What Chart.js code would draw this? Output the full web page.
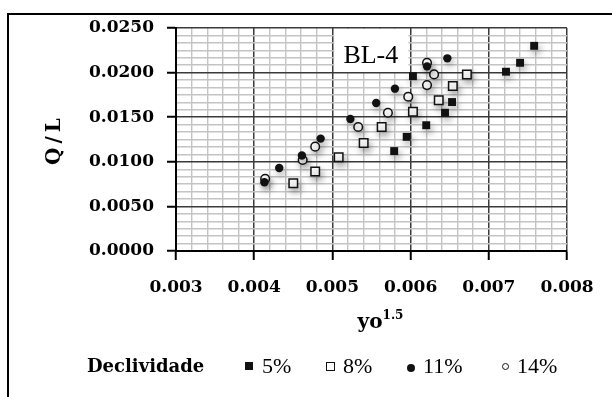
<!DOCTYPE html>
<html>
<head>
<meta charset="utf-8">
<script src="https://cdn.jsdelivr.net/npm/chart.js@4/dist/chart.umd.min.js"></script>
<style>
  html, body { margin: 0; padding: 0; background: #fff; }
  #wrap { position: relative; width: 612px; height: 397px; overflow: hidden; background: #fff; }
  #frame { position: absolute; left: 7px; top: 13px; width: 800px; height: 600px; border: 2px solid #000; }
  #c { position: absolute; left: 0; top: 0; }
  .lg { position: absolute; white-space: nowrap; color: #000; }
  .lgt { font-family: "Liberation Serif", serif; font-size: 22px; line-height: 24px; top: 354px; }
  .mk { position: absolute; box-sizing: border-box; }
</style>
</head>
<body>
<div id="wrap">
  <div id="frame"></div>
  <canvas id="c" width="612" height="397"></canvas>
  <div class="lg" id="lgTitle" style="left:87px;top:356px;font-family:'DejaVu Serif',serif;font-weight:bold;font-size:18px;line-height:20px;"></div>
  <div class="mk" style="left:245px;top:362px;width:8px;height:8px;background:#111;"></div>
  <div class="lg lgt" id="lg0" style="left:262px;"></div>
  <div class="mk" style="left:326px;top:362px;width:9px;height:9px;border:1.5px solid #111;background:#fff;"></div>
  <div class="lg lgt" id="lg1" style="left:343px;"></div>
  <div class="mk" style="left:407px;top:364px;width:8px;height:8px;border-radius:50%;background:#111;"></div>
  <div class="lg lgt" id="lg2" style="left:423px;"></div>
  <div class="mk" style="left:502px;top:363px;width:7px;height:7px;border-radius:50%;border:1px solid #111;background:#fff;"></div>
  <div class="lg lgt" id="lg3" style="left:517px;"></div>
</div>
<script>
// ---- data ----
const seriesNames = ['5%', '8%', '11%', '14%'];
const legendTitle = 'Declividade';

const x5  = [0.00579, 0.00595, 0.00620, 0.00644, 0.00653, 0.00603, 0.00722, 0.00740, 0.00758];
const y5  = [0.0112, 0.0128, 0.0141, 0.0155, 0.0167, 0.0196, 0.0201, 0.0211, 0.0230];
const x8  = [0.00450, 0.00478, 0.00508, 0.00540, 0.00563, 0.00603, 0.00636, 0.00654, 0.00672];
const y8  = [0.0076, 0.0089, 0.0105, 0.0121, 0.0139, 0.0156, 0.0169, 0.0185, 0.0198];
const x11 = [0.00413, 0.00432, 0.00461, 0.00485, 0.00523, 0.00556, 0.00580, 0.00621, 0.00647];
const y11 = [0.0077, 0.0093, 0.0107, 0.0126, 0.0148, 0.0166, 0.0182, 0.0207, 0.0216];
const x14 = [0.00414, 0.00462, 0.00478, 0.00533, 0.00571, 0.00597, 0.00621, 0.00630, 0.00621];
const y14 = [0.0081, 0.0102, 0.0117, 0.0139, 0.0155, 0.0173, 0.0186, 0.0198, 0.0211];

const xTickLabels = ['0.003', '0.004', '0.005', '0.006', '0.007', '0.008'];
const yTickLabels = ['0.0000', '0.0050', '0.0100', '0.0150', '0.0200', '0.0250'];
const xMinorDivisions = 5;
const yMinorDivisions = 6;

const yTitle = 'Q/L';
const xTitleBase = 'yo';
const xTitleSup = '1.5';
const panelLabel = 'BL-4';

// ---- build ----
document.getElementById('lgTitle').textContent = legendTitle;
seriesNames.forEach((n, i) => { document.getElementById('lg' + i).textContent = n; });

const xMajor = xTickLabels.map(parseFloat);
const yMajor = yTickLabels.map(parseFloat);

function pts(xs, ys) { return xs.map((x, i) => ({ x: x, y: ys[i] })); }

function buildTicks(majors, div) {
  const out = [];
  for (let i = 0; i < majors.length; i++) {
    out.push({ value: majors[i] });
    if (i < majors.length - 1) {
      const step = (majors[i + 1] - majors[i]) / div;
      for (let k = 1; k < div; k++) out.push({ value: majors[i] + k * step });
    }
  }
  return out;
}
function majorIndex(majors, v) {
  return majors.findIndex(m => Math.abs(m - v) < 1e-9);
}

const shadowPlugin = {
  id: 'shadowPlugin',
  beforeDatasetsDraw(chart) {
    const ctx = chart.ctx;
    const a = chart.chartArea;
    const xs = chart.scales.x;
    // panel label box
    ctx.save();
    const bx = xs.getPixelForValue(0.005) + 2;
    ctx.fillStyle = '#fff';
    ctx.fillRect(bx, a.top + 1, 74, 43);
    ctx.fillStyle = '#000';
    ctx.font = '26px "Liberation Serif", serif';
    ctx.textAlign = 'left';
    ctx.textBaseline = 'alphabetic';
    ctx.fillText(panelLabel, bx + 9, a.top + 35);
    ctx.restore();

    ctx.save();
    ctx.shadowColor = 'rgba(0,0,0,0.35)';
    ctx.shadowBlur = 7;
    ctx.shadowOffsetX = 2;
    ctx.shadowOffsetY = 4;
  },
  afterDatasetsDraw(chart) {
    chart.ctx.restore();
  },
  afterDraw(chart) {
    const ctx = chart.ctx;
    const a = chart.chartArea;
    ctx.save();
    ctx.fillStyle = '#000';
    // y title
    ctx.translate(55, (a.top + a.bottom) / 2);
    ctx.rotate(-Math.PI / 2);
    ctx.font = 'bold 20px "DejaVu Serif", serif';
    try { ctx.letterSpacing = '4px'; } catch (e) {}
    ctx.textAlign = 'center';
    ctx.textBaseline = 'middle';
    ctx.fillText(yTitle, 0, 0);
    ctx.restore();

    ctx.save();
    ctx.fillStyle = '#000';
    ctx.font = 'bold 20px "DejaVu Serif", serif';
    ctx.textAlign = 'left';
    ctx.textBaseline = 'alphabetic';
    const bw = ctx.measureText(xTitleBase).width;
    ctx.font = 'bold 12px "DejaVu Serif", serif';
    const sw = ctx.measureText(xTitleSup).width;
    const cx = (a.left + a.right) / 2 + 9;
    const x0 = cx - (bw + sw) / 2;
    ctx.font = 'bold 20px "DejaVu Serif", serif';
    ctx.fillText(xTitleBase, x0, 328);
    ctx.font = 'bold 12px "DejaVu Serif", serif';
    ctx.fillText(xTitleSup, x0 + bw, 319);
    ctx.restore();
  }
};

const tickFont = { family: "'DejaVu Serif', serif", weight: 'bold', size: 17 };

new Chart(document.getElementById('c'), {
  type: 'scatter',
  data: {
    datasets: [
      { label: seriesNames[0], data: pts(x5, y5), pointStyle: 'rect', pointRadius: 5.6,
        backgroundColor: '#111', borderColor: '#111', borderWidth: 0 },
      { label: seriesNames[1], data: pts(x8, y8), pointStyle: 'rect', pointRadius: 6,
        backgroundColor: '#fff', borderColor: '#111', borderWidth: 1.5 },
      { label: seriesNames[2], data: pts(x11, y11), pointStyle: 'circle', pointRadius: 4.2,
        backgroundColor: '#111', borderColor: '#111', borderWidth: 0 },
      { label: seriesNames[3], data: pts(x14, y14), pointStyle: 'circle', pointRadius: 4.3,
        backgroundColor: '#fff', borderColor: '#111', borderWidth: 1.5 }
    ]
  },
  options: {
    responsive: false,
    animation: false,
    devicePixelRatio: 1,
    layout: { padding: { left: 0, right: 45, top: 28, bottom: 86 } },
    plugins: { legend: { display: false }, tooltip: { enabled: false } },
    scales: {
      x: {
        type: 'linear', min: xMajor[0], max: xMajor[xMajor.length - 1],
        afterBuildTicks: s => { s.ticks = buildTicks(xMajor, xMinorDivisions); },
        afterFit: s => { s.height = 60; },
        ticks: {
          autoSkip: false, maxRotation: 0, padding: 17, color: '#000', font: tickFont,
          callback: v => { const i = majorIndex(xMajor, v); return i >= 0 ? xTickLabels[i] : ''; }
        },
        grid: {
          color: c => majorIndex(xMajor, c.tick.value) >= 0 ? '#3a3a3a' : '#c4c4c4',
          lineWidth: c => majorIndex(xMajor, c.tick.value) >= 0 ? 1.5 : 1.4,
          tickColor: c => majorIndex(xMajor, c.tick.value) >= 0 ? '#000' : 'rgba(0,0,0,0)',
          tickLength: 9, tickWidth: 2
        },
        border: { display: true, color: '#000', width: 2 }
      },
      y: {
        type: 'linear', min: yMajor[0], max: yMajor[yMajor.length - 1],
        afterBuildTicks: s => { s.ticks = buildTicks(yMajor, yMinorDivisions); },
        afterFit: s => { s.width = 176; },
        ticks: {
          autoSkip: false, padding: 13, color: '#000', font: tickFont,
          callback: v => { const i = majorIndex(yMajor, v); return i >= 0 ? yTickLabels[i] : ''; }
        },
        grid: {
          color: c => majorIndex(yMajor, c.tick.value) >= 0 ? '#3a3a3a' : '#c4c4c4',
          lineWidth: c => majorIndex(yMajor, c.tick.value) >= 0 ? 1.5 : 1.4,
          tickColor: c => majorIndex(yMajor, c.tick.value) >= 0 ? '#000' : 'rgba(0,0,0,0)',
          tickLength: 9, tickWidth: 2
        },
        border: { display: true, color: '#000', width: 2 }
      }
    }
  },
  plugins: [shadowPlugin]
});
</script>
</body>
</html>
